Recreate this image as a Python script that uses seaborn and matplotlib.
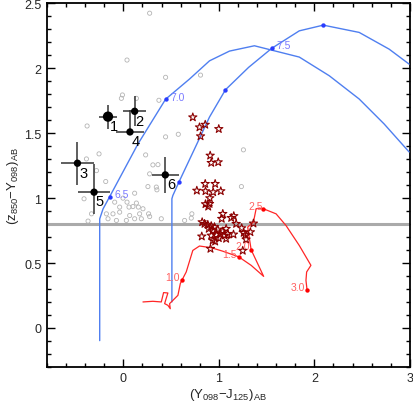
import matplotlib

matplotlib.use("Agg")
import matplotlib.pyplot as plt
from matplotlib.ticker import FuncFormatter, MultipleLocator
import numpy as np
import pandas as pd
import seaborn as sns

# --- data ------------------------------------------------------------------
# blue model tracks (Y098-J125, z850-Y098)
track_a_x = [-0.248, -0.248, -0.213, -0.143, 0.153, 0.442, 0.693, 0.902,
             1.111, 1.372, 1.842, 2.156, 2.469, 2.730, 2.992]
track_a_y = [-0.098, 0.840, 0.917, 1.012, 1.418, 1.762, 1.918, 2.058,
             2.133, 2.174, 2.087, 1.943, 1.764, 1.572, 1.356]
track_b_x = [0.508, 0.508, 0.518, 0.581, 0.745, 0.902, 1.069, 1.312,
             1.553, 1.842, 2.093, 2.469, 2.783, 2.992]
track_b_y = [0.200, 0.995, 1.020, 1.123, 1.379, 1.625, 1.835, 2.008,
             2.154, 2.289, 2.333, 2.277, 2.148, 2.033]
track_dots_x = [-0.143, 0.442, 0.581, 1.069, 1.553, 2.093]
track_dots_y = [1.012, 1.762, 1.123, 1.835, 2.154, 2.333]
track_labels = ["6.5", "7.0", "7.5"]
track_label_x = [-0.015, 0.564, 1.682]
track_label_y = [1.033, 1.782, 2.179]

# red low-z track
red_x = [0.205, 0.309, 0.397, 0.421, 0.466, 0.442, 0.432, 0.466, 0.491,
         0.484, 0.518, 0.571, 0.596, 0.612, 0.658, 0.727, 0.797, 0.920,
         1.041, 1.207, 1.338, 1.469, 1.338, 1.312, 1.302, 1.362, 1.390,
         1.424, 1.466, 1.599, 1.703, 1.842, 1.964, 1.919, 1.912, 1.923]
red_y = [0.200, 0.205, 0.200, 0.272, 0.269, 0.212, 0.187, 0.174, 0.148,
         0.187, 0.212, 0.251, 0.341, 0.366, 0.431, 0.597, 0.631, 0.618,
         0.591, 0.548, 0.482, 0.397, 0.602, 0.725, 0.777, 0.815, 0.918,
         0.923, 0.918, 0.879, 0.789, 0.635, 0.482, 0.431, 0.366, 0.295]
red_dots_x = [0.612, 1.207, 1.338, 1.466, 1.923]
red_dots_y = [0.366, 0.548, 0.602, 0.918, 0.295]
red_labels = ["1.0", "1.5", "2.0", "2.5", "3.0"]
red_label_x = [0.518, 1.111, 1.250, 1.382, 1.829]
red_label_y = [0.392, 0.566, 0.631, 0.938, 0.315]

# faint field sources
field_x = [0.275, 0.038, 0.442, 0.808, -0.021, -0.010, 0.136, 0.372, -0.380,
           0.442, 0.575, -0.255, 0.233, -0.387, 0.309, 0.362, -0.282, 0.275,
           1.257, -0.185, 0.257, 0.345, 0.351, 0.118, -0.412, -0.004, -0.091,
           0.038, 0.136, 0.100, 0.157, -0.039, 0.059, 0.205, 0.264, 0.170,
           -0.039, -0.109, -0.178, -0.334, -0.370, -0.161, -0.073, 0.031,
           0.066, 0.118, 0.188, 0.275, 0.397, 0.641, 0.717, 1.236, 0.711]
field_y = [2.425, 2.064, 1.931, 1.948, 1.769, 1.795, 1.769, 1.754, 1.556,
           1.472, 1.492, 1.341, 1.333, 1.302, 1.256, 1.258, 1.212, 1.187,
           1.372, 1.128, 1.089, 1.085, 1.064, 1.038, 0.995, 1.000, 0.969,
           0.969, 0.962, 0.935, 0.931, 0.931, 0.931, 0.918, 0.879, 0.879,
           0.892, 0.879, 0.879, 0.879, 0.823, 0.841, 0.828, 0.828, 0.866,
           0.841, 0.841, 0.858, 0.841, 0.828, 0.879, 1.089, 0.846]

# stars
star_x = [0.727, 0.797, 0.857, 0.808, 0.999, 0.909, 0.920, 0.993, 0.857,
          0.961, 0.769, 0.860, 0.940, 1.020, 0.905, 0.860, 0.888, 0.902,
          1.041, 1.030, 1.129, 1.156, 1.181, 0.825, 0.850, 0.884, 0.920,
          0.954, 0.894, 0.936, 0.988, 1.014, 1.041, 1.076, 1.093, 1.059,
          0.972, 0.920, 0.999, 1.076, 1.153, 1.239, 1.260, 1.278, 1.330,
          1.362, 0.821, 0.936, 0.961, 0.912, 1.250, 1.285]
star_y = [1.623, 1.546, 1.566, 1.477, 1.533, 1.328, 1.272, 1.277, 1.110,
          1.110, 1.058, 1.054, 1.046, 1.054, 1.000, 0.954, 0.935, 0.956,
          0.879, 0.841, 0.848, 0.862, 0.802, 0.815, 0.802, 0.795, 0.785,
          0.777, 0.764, 0.751, 0.758, 0.725, 0.743, 0.764, 0.725, 0.712,
          0.718, 0.712, 0.692, 0.687, 0.720, 0.769, 0.733, 0.718, 0.738,
          0.805, 0.705, 0.674, 0.666, 0.610, 0.595, 0.682]

# candidates with error bars
cand_id = ["1", "2", "3", "4", "5", "6"]
cand_x = [-0.161, 0.118, -0.481, 0.069, -0.307, 0.439]
cand_y = [1.628, 1.669, 1.269, 1.510, 1.046, 1.179]
cand_xerr = [0.094, 0.12, 0.17, 0.15, 0.166, 0.14]
cand_yerr_lo = [0.093, 0.115, 0.167, 0.02, 0.17, 0.137]
cand_yerr_hi = [0.093, 0.115, 0.167, 0.17, 0.22, 0.137]
cand_label_x = [-0.101, 0.170, -0.418, 0.129, -0.248, 0.502]
cand_label_y = [1.558, 1.597, 1.195, 1.443, 0.977, 1.110]

cut_level = 0.8

# --- plot ------------------------------------------------------------------
sns.set_theme(style="ticks")
plt.rcParams["font.family"] = ["Liberation Sans", "DejaVu Sans"]
plt.rcParams["mathtext.default"] = "regular"

fig = plt.figure(figsize=(4.14, 4.06), dpi=100)
ax = fig.add_axes([0.1135, 0.094, 0.8765, 0.895])

ax.axhline(cut_level, color="#aaaaaa", lw=2.2, zorder=1)

sns.scatterplot(x=field_x, y=field_y, marker="o", s=9, facecolor="none",
                edgecolor="#b4b4b4", linewidth=0.6, ax=ax, zorder=2)

blue = "#4f7ff0"
sns.lineplot(x=track_a_x, y=track_a_y, sort=False, estimator=None,
             color=blue, lw=1.0, ax=ax, zorder=3)
sns.lineplot(x=track_b_x, y=track_b_y, sort=False, estimator=None,
             color=blue, lw=1.0, ax=ax, zorder=3)
sns.scatterplot(x=track_dots_x, y=track_dots_y, color="#2a3cff", s=10,
                linewidth=0, ax=ax, zorder=4)
for lab, lx, ly in zip(track_labels, track_label_x, track_label_y):
    ax.text(lx, ly, lab, color="#7a7aff", fontsize=7.5, ha="center",
            va="center", zorder=5)

sns.lineplot(x=red_x, y=red_y, sort=False, estimator=None, color="#ff2626",
             lw=0.9, ax=ax, zorder=3)
sns.scatterplot(x=red_dots_x, y=red_dots_y, color="#ff0000", s=10,
                linewidth=0, ax=ax, zorder=4)
for lab, lx, ly in zip(red_labels, red_label_x, red_label_y):
    ax.text(lx, ly, lab, color="#ff6060", fontsize=7.5, ha="center",
            va="center", zorder=5)

sns.scatterplot(x=star_x, y=star_y, marker="*", s=38, facecolor="none",
                edgecolor="#8b0000", linewidth=0.8, ax=ax, zorder=6)

ax.errorbar(cand_x, cand_y, xerr=cand_xerr,
            yerr=[cand_yerr_lo, cand_yerr_hi], fmt="none",
            ecolor="#333333", elinewidth=1.1, capsize=0, zorder=7)
sizes = [55 if c == "1" else 28 for c in cand_id]
sns.scatterplot(x=cand_x, y=cand_y, color="black", s=sizes, linewidth=0,
                ax=ax, zorder=8, legend=False)
for lab, lx, ly in zip(cand_id, cand_label_x, cand_label_y):
    ax.text(lx, ly, lab, color="black", fontsize=10.5, ha="center",
            va="center", zorder=9)

ax.set_xlim(-0.8, 3.0)
ax.set_ylim(-0.3, 2.5)
ax.xaxis.set_major_locator(MultipleLocator(1))
ax.xaxis.set_minor_locator(MultipleLocator(0.2))
ax.yaxis.set_major_locator(MultipleLocator(0.5))
ax.yaxis.set_minor_locator(MultipleLocator(0.1))
ax.xaxis.set_major_formatter(FuncFormatter(lambda v, p: f"{v:g}"))
ax.yaxis.set_major_formatter(FuncFormatter(lambda v, p: f"{v:g}"))
ax.tick_params(which="both", direction="in", top=True, right=True,
               labelsize=9, color="black", width=1.0)
ax.tick_params(which="major", length=6, pad=4)
ax.tick_params(which="minor", length=3)
for side in ax.spines.values():
    side.set_linewidth(1.3)
    side.set_color("black")

ax.set_xlabel(r"(Y$_{098}$$-$J$_{125}$)$_{AB}$", fontsize=9.5, labelpad=1)
ax.set_ylabel(r"(z$_{850}$$-$Y$_{098}$)$_{AB}$", fontsize=9.5, labelpad=2)

fig.savefig("out.png", dpi=100)
plt.close(fig)
